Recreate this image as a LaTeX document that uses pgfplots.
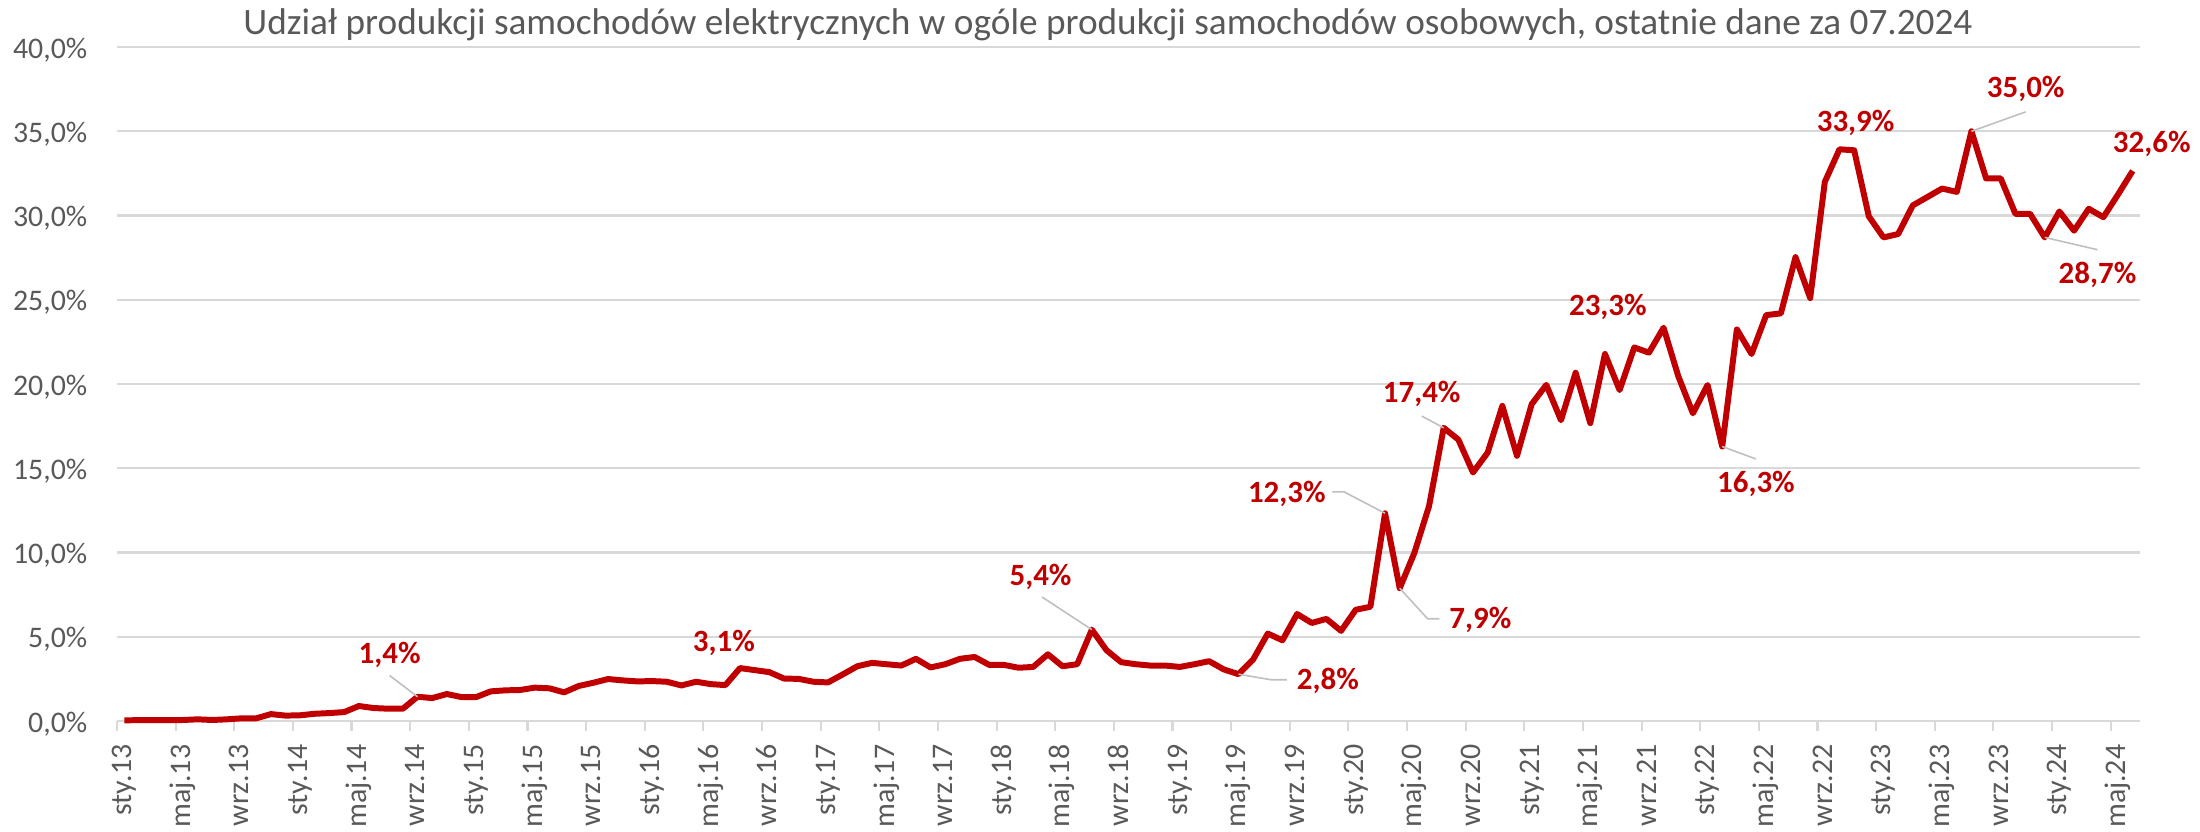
\documentclass[border=0pt]{standalone}
\usepackage{pgfplots}
\usepackage{pgfplotstable}
\pgfplotsset{compat=1.18}
\usepackage{fontspec}
\setmainfont{Carlito}
\definecolor{ered}{HTML}{C00000}
\definecolor{gtxt}{HTML}{595959}
\definecolor{ggrid}{HTML}{D9D9D9}
\definecolor{glead}{HTML}{BFBFBF}
\tikzset{
  lbl/.style={font=\fontsize{8.8}{10}\selectfont\bfseries, text=ered, inner sep=0pt},
  leader/.style={glead, line width=0.45pt},
}
\pgfplotstableread{
v
0.04
0.05
0.05
0.05
0.06
0.10
0.06
0.10
0.16
0.16
0.41
0.32
0.34
0.43
0.47
0.53
0.89
0.77
0.73
0.73
1.44
1.36
1.60
1.42
1.42
1.76
1.82
1.84
1.98
1.94
1.70
2.08
2.27
2.49
2.41
2.35
2.37
2.33
2.11
2.33
2.19
2.13
3.14
3.02
2.90
2.52
2.50
2.33
2.29
2.76
3.25
3.45
3.37
3.29
3.69
3.18
3.37
3.69
3.80
3.33
3.33
3.16
3.21
3.96
3.25
3.37
5.42
4.20
3.49
3.37
3.29
3.29
3.21
3.37
3.55
3.06
2.78
3.65
5.19
4.79
6.35
5.82
6.06
5.35
6.60
6.78
12.33
7.88
9.98
12.75
17.40
16.70
14.75
15.93
18.70
15.74
18.80
19.95
17.85
20.67
17.68
21.78
19.64
22.17
21.86
23.34
20.47
18.26
19.94
16.29
23.24
21.78
24.09
24.19
27.53
25.10
32.00
33.93
33.87
29.95
28.70
28.90
30.60
31.10
31.60
31.40
35.00
32.20
32.20
30.10
30.10
28.70
30.24
29.10
30.40
29.90
31.25
32.65
}\sharedata
\begin{document}
\begin{tikzpicture}
\useasboundingbox (-1.17,-1.10) rectangle (20.83,7.21);
\begin{axis}[
  scale only axis, width=20.23cm, height=6.74cm,
  at={(0,0)}, anchor=south west,
  xmin=-0.5, xmax=137.5, ymin=0, ymax=40,
  axis line style={draw=none},
  ymajorgrids, grid style={ggrid, line width=0.6pt},
  ytick={0,5,...,40},
  yticklabels={{0,0\%},{5,0\%},{10,0\%},{15,0\%},{20,0\%},{25,0\%},{30,0\%},{35,0\%},{40,0\%}},
  xtick={0,4,...,136},
  xticklabels={sty.13,maj.13,wrz.13,sty.14,maj.14,wrz.14,sty.15,maj.15,wrz.15,sty.16,maj.16,wrz.16,sty.17,maj.17,wrz.17,sty.18,maj.18,wrz.18,sty.19,maj.19,wrz.19,sty.20,maj.20,wrz.20,sty.21,maj.21,wrz.21,sty.22,maj.22,wrz.22,sty.23,maj.23,wrz.23,sty.24,maj.24},
  minor xtick={-0.5,3.5,...,135.5},
  tick pos=left,
  major tick length=0pt, minor tick length=0.1cm, tick align=outside,
  ytick style={draw=none},
  minor tick style={ggrid, line width=0.6pt},
  xticklabel style={rotate=90, anchor=east, inner sep=0pt, text height=0.62em, text depth=0.2em, font=\fontsize{8.5}{10}\selectfont, text=gtxt},
  yticklabel style={anchor=east, inner sep=0pt, text height=0.63em, text depth=0pt, font=\fontsize{8.5}{10}\selectfont, text=gtxt},
  xticklabel shift=0.23cm, yticklabel shift=0.29cm,
  clip=false,
]
\addplot[ered, line width=1.7pt, line join=round, mark=none] table[x expr=\coordindex, y=v] {\sharedata};

\draw[leader] (axis cs:20,1.44) -- (axis cs:18.1,2.7);
\node[lbl] at (axis cs:18.1,3.95) {1,4\%};
\node[lbl] at (axis cs:40.9,4.64) {3,1\%};
\draw[leader] (axis cs:66,5.42) -- (axis cs:62.6,7.36);
\node[lbl] at (axis cs:62.5,8.58) {5,4\%};
\draw[leader] (axis cs:76,2.78) -- (axis cs:78.2,2.45) -- (axis cs:79.3,2.45);
\node[lbl] at (axis cs:82.1,2.37) {2,8\%};
\draw[leader] (axis cs:86,12.33) -- (axis cs:83.2,13.6) -- (axis cs:82.4,13.6);
\node[lbl] at (axis cs:79.3,13.5) {12,3\%};
\draw[leader] (axis cs:87,7.88) -- (axis cs:88.9,6.07) -- (axis cs:89.7,6.07);
\node[lbl] at (axis cs:92.5,6.0) {7,9\%};
\draw[leader] (axis cs:90,17.4) -- (axis cs:88.5,18.1);
\node[lbl] at (axis cs:88.5,19.4) {17,4\%};
\node[lbl] at (axis cs:101.2,24.6) {23,3\%};
\draw[leader] (axis cs:109,16.29) -- (axis cs:111.3,15.55);
\node[lbl] at (axis cs:111.3,14.07) {16,3\%};
\node[lbl] at (axis cs:118.1,35.5) {33,9\%};
\draw[leader] (axis cs:126,35.0) -- (axis cs:129.7,36.15);
\node[lbl] at (axis cs:129.7,37.5) {35,0\%};
\draw[leader] (axis cs:131,28.7) -- (axis cs:134.6,27.97);
\node[lbl] at (axis cs:134.6,26.5) {28,7\%};
\node[lbl] at (axis cs:138.3,34.27) {32,6\%};
\end{axis}
\node[text=gtxt, font=\fontsize{10.6}{12.5}\selectfont, inner sep=0pt] at (9.91,6.96) {Udział produkcji samochodów elektrycznych w ogóle produkcji samochodów osobowych, ostatnie dane za 07.2024};
\end{tikzpicture}
\end{document}
